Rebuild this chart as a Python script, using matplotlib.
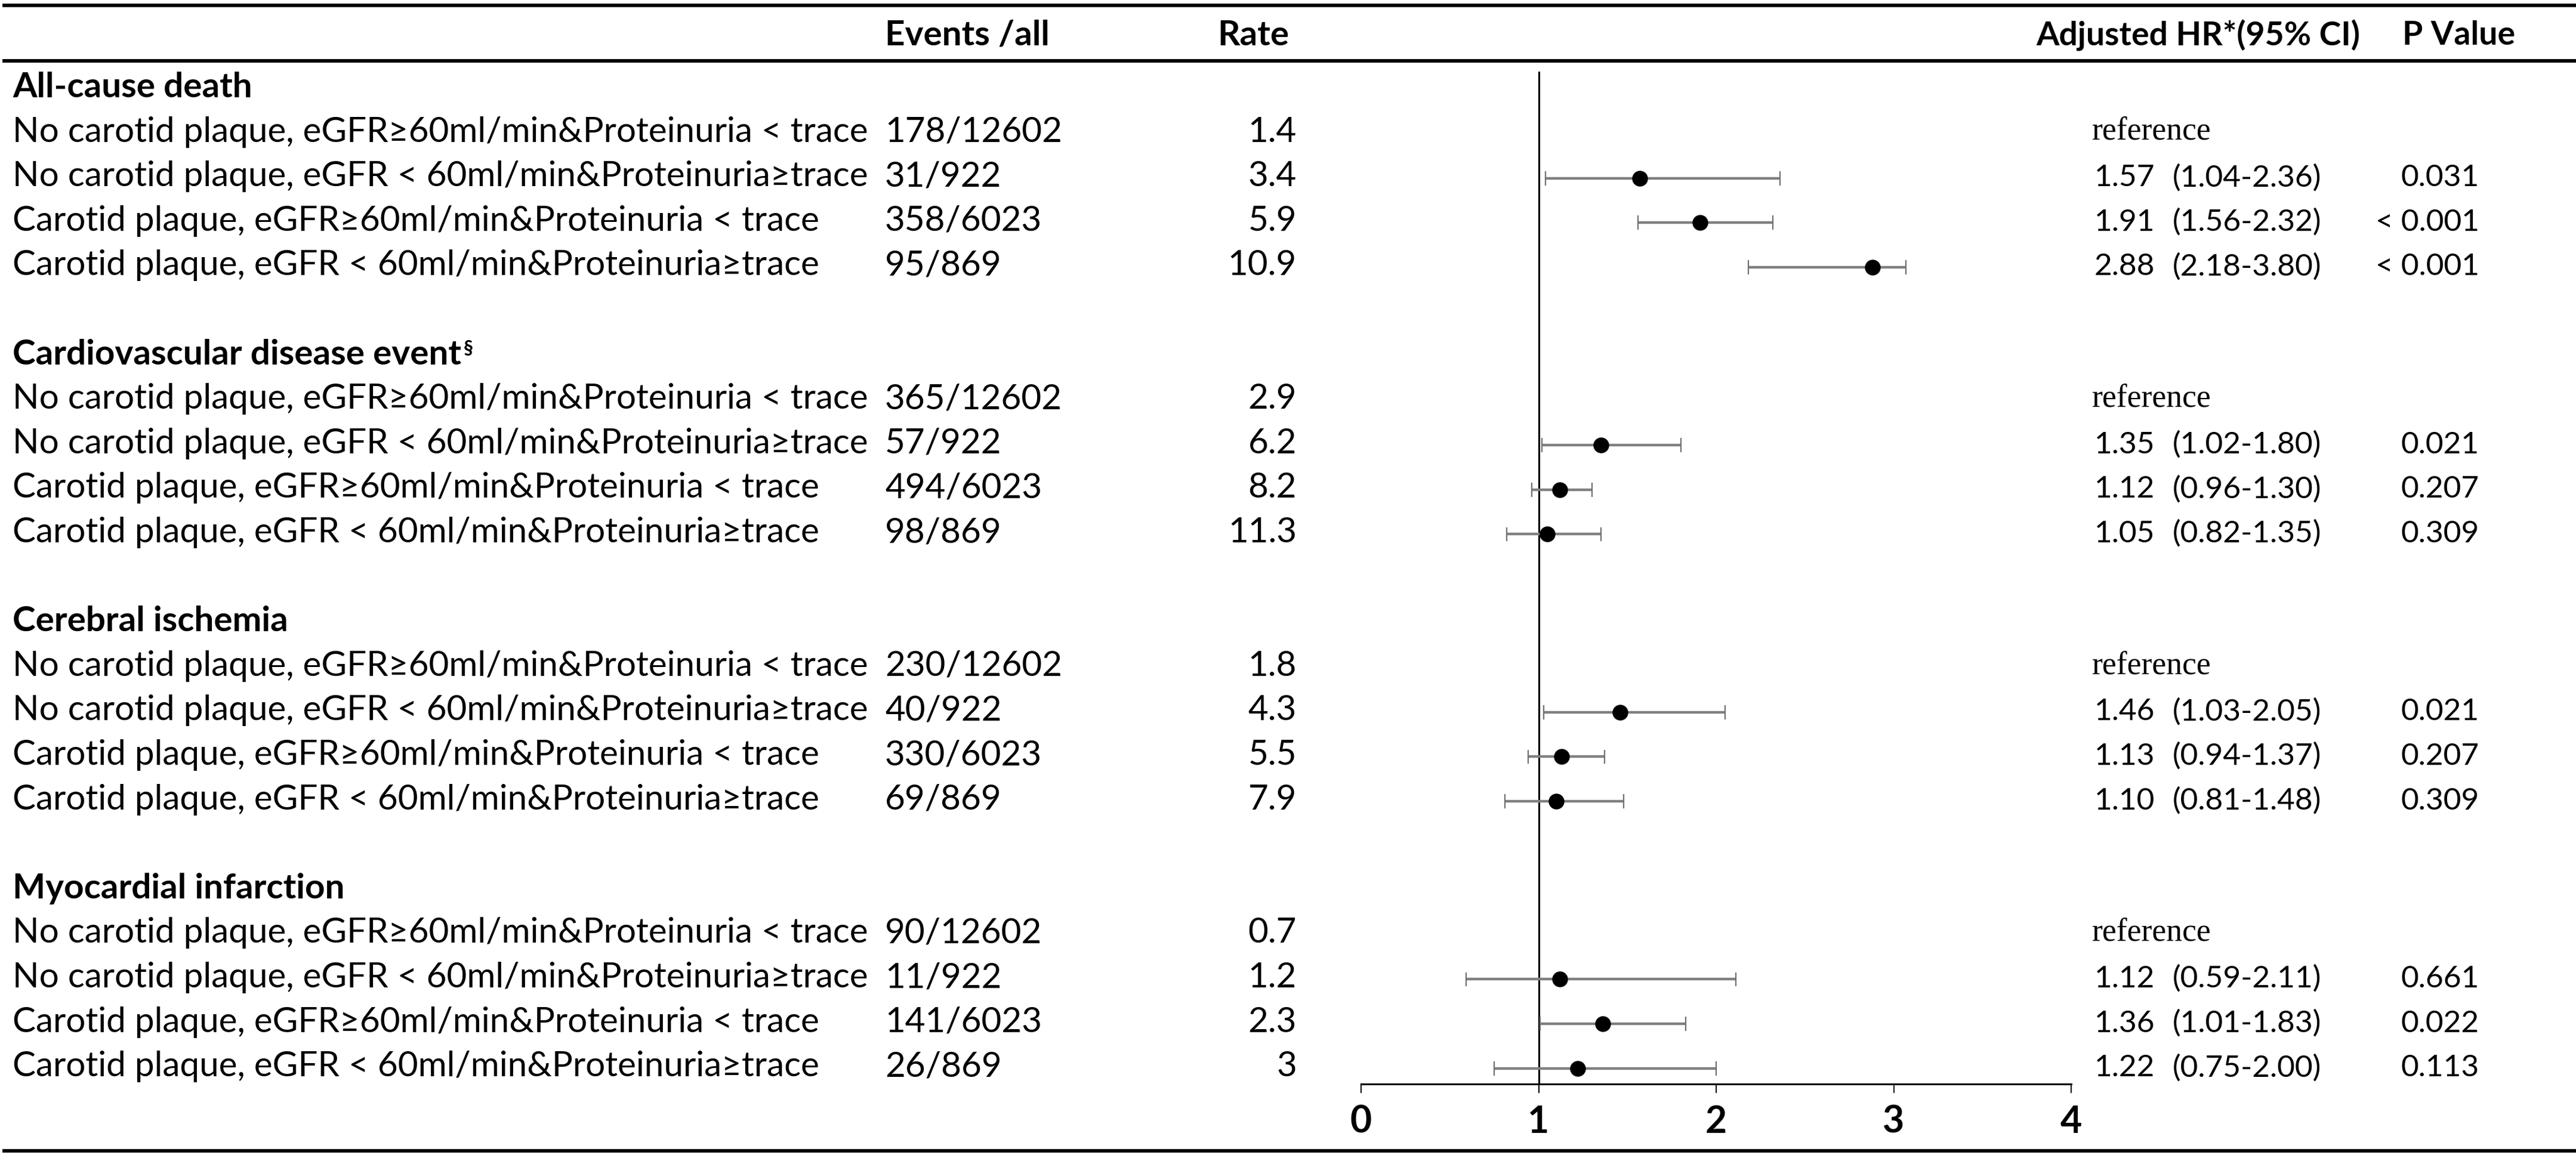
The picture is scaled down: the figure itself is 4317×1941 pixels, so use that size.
import numpy as np
import matplotlib
matplotlib.use('Agg')
import matplotlib.pyplot as plt
from matplotlib.lines import Line2D
from matplotlib.transforms import blended_transform_factory, offset_copy

# ---- data ----
groups = ['All-cause death', 'Cardiovascular disease event',
          'Cerebral ischemia', 'Myocardial infarction']
row_labels = [
    'No carotid plaque, eGFR\u226560ml/min&Proteinuria < trace',
    'No carotid plaque, eGFR < 60ml/min&Proteinuria\u2265trace',
    'Carotid plaque, eGFR\u226560ml/min&Proteinuria < trace',
    'Carotid plaque, eGFR < 60ml/min&Proteinuria\u2265trace',
]
events = ['178/12602', '31/922', '358/6023', '95/869',
          '365/12602', '57/922', '494/6023', '98/869',
          '230/12602', '40/922', '330/6023', '69/869',
          '90/12602', '11/922', '141/6023', '26/869']
rates = ['1.4', '3.4', '5.9', '10.9',
         '2.9', '6.2', '8.2', '11.3',
         '1.8', '4.3', '5.5', '7.9',
         '0.7', '1.2', '2.3', '3']
# hazard ratios as drawn (reference rows have no marker)
hr = [np.nan, 1.57, 1.91, 2.88,
      np.nan, 1.35, 1.12, 1.05,
      np.nan, 1.46, 1.13, 1.10,
      np.nan, 1.12, 1.36, 1.22]
ci_lo = [np.nan, 1.04, 1.56, 2.18,
         np.nan, 1.02, 0.96, 0.82,
         np.nan, 1.03, 0.94, 0.81,
         np.nan, 0.59, 1.01, 0.75]
# upper whisker of the last all-cause row stops near 3.07 in the figure
ci_hi = [np.nan, 2.36, 2.32, 3.07,
         np.nan, 1.80, 1.30, 1.35,
         np.nan, 2.05, 1.37, 1.48,
         np.nan, 2.11, 1.83, 2.00]
hr_txt = ['reference', '1.57', '1.91', '2.88',
          'reference', '1.35', '1.12', '1.05',
          'reference', '1.46', '1.13', '1.10',
          'reference', '1.12', '1.36', '1.22']
ci_txt = ['', '(1.04-2.36)', '(1.56-2.32)', '(2.18-3.80)',
          '', '(1.02-1.80)', '(0.96-1.30)', '(0.82-1.35)',
          '', '(1.03-2.05)', '(0.94-1.37)', '(0.81-1.48)',
          '', '(0.59-2.11)', '(1.01-1.83)', '(0.75-2.00)']
p_txt = ['', '0.031', '< 0.001', '< 0.001',
         '', '0.021', '0.207', '0.309',
         '', '0.021', '0.207', '0.309',
         '', '0.661', '0.022', '0.113']
x_ticks = [0, 1, 2, 3, 4]

# ---- layout (pixels of the 4317x1941 canvas) ----
W, H = 4317, 1941
SANS = ['Lato', 'DejaVu Sans']
NARROW = ['Liberation Sans Narrow', 'Lato', 'DejaVu Sans']
SERIF = ['Liberation Serif', 'DejaVu Serif']
FS = 42
FS_R = 37

fig = plt.figure(figsize=(W / 100, H / 100), dpi=100)
fig.patch.set_facecolor('white')

y0_px, step_px = 142, 74.6          # slot 0 centre and slot pitch
top_px, axis_px = 120, 1817
x0_px, x4_px = 2281, 3471


def slot_of(px):
    return (px - y0_px) / step_px


ax = fig.add_axes([x0_px / W, 1 - axis_px / H,
                   (x4_px - x0_px) / W, (axis_px - top_px) / H])
ax.set_xlim(0, 4)
ax.set_ylim(slot_of(axis_px), slot_of(top_px))
ax.patch.set_alpha(0)
for s in ('left', 'right', 'top'):
    ax.spines[s].set_visible(False)
ax.spines['bottom'].set_linewidth(2.2)
ax.set_yticks([])
ax.set_xticks(x_ticks)
ax.tick_params(axis='x', direction='out', length=11, width=1.5, pad=14)
for lab in ax.get_xticklabels():
    lab.set_fontfamily(SANS)
    lab.set_fontweight('bold')
    lab.set_fontsize(45)
ax.axvline(1, color='black', lw=2.2, zorder=1)

slots = []
for g in range(len(groups)):
    for i in range(len(row_labels)):
        slots.append(g * 6 + 1 + i)
slots = np.array(slots, dtype=float)

hr_a = np.array(hr)
lo_a = np.array(ci_lo)
hi_a = np.array(ci_hi)
mk_y = slots + 0.1
ax.hlines(mk_y, lo_a, hi_a, color='#808080', lw=3.2, zorder=2)
ax.vlines(lo_a, mk_y - 0.16, mk_y + 0.16, color='#707070', lw=1.6, zorder=2)
ax.vlines(hi_a, mk_y - 0.16, mk_y + 0.16, color='#707070', lw=1.6, zorder=2)
ax.plot(hr_a, mk_y, 'o', color='black', ms=18, zorder=3, clip_on=False)

# text placed with x in figure pixels, y in row slots
trans = blended_transform_factory(fig.transFigure, ax.transData)
base = offset_copy(trans, fig=fig, y=-21, units='dots')   # baseline below centre


def fx(px):
    return px / W


for g, name in enumerate(groups):
    t = ax.text(fx(21), g * 6, name, transform=base, ha='left', va='baseline',
                fontsize=FS, fontweight='bold', family=SANS)
    if g == 1:
        fig.canvas.draw()
        bb = t.get_window_extent()
        ax.text(fx(bb.x1 + 4), g * 6 - 0.22, '\u00a7', transform=base,
                ha='left', va='baseline', fontsize=FS * 0.55,
                fontweight='bold', family=SANS)

for k, s in enumerate(slots):
    ax.text(fx(21), s, row_labels[k % 4], transform=base, ha='left',
            va='baseline', fontsize=FS, family=SANS)
    ax.text(fx(1483), s, events[k], transform=base, ha='left',
            va='baseline', fontsize=FS, family=SANS)
    ax.text(fx(2173), s, rates[k], transform=base, ha='right',
            va='baseline', fontsize=FS, family=SANS)
    if ci_txt[k]:
        ax.text(fx(3510), s, hr_txt[k], transform=base, ha='left',
                va='baseline', fontsize=FS_R, family=NARROW)
        ax.text(fx(3641), s, ci_txt[k], transform=base, ha='left',
                va='baseline', fontsize=FS_R, family=NARROW)
        ax.text(fx(4155), s, p_txt[k], transform=base, ha='right',
                va='baseline', fontsize=FS_R, family=NARROW)
    else:
        ax.text(fx(3506), s - 0.05, hr_txt[k], transform=base, ha='left',
                va='baseline', fontsize=FS * 0.92, family=SERIF)

# column headers
hy = 1 - 59 / H
fig.text(fx(1483), hy, 'Events /all', ha='left', va='center',
         fontsize=FS, fontweight='bold', family=SANS)
fig.text(fx(2100), hy, 'Rate', ha='center', va='center',
         fontsize=FS, fontweight='bold', family=SANS)
fig.text(fx(3412), hy, 'Adjusted HR*(95% CI)', ha='left', va='center',
         fontsize=FS * 0.95, fontweight='bold', family=NARROW)
fig.text(fx(4026), hy, 'P Value', ha='left', va='center',
         fontsize=FS * 0.95, fontweight='bold', family=NARROW)

# table rules
for ypx in (9, 102, 1929):
    fig.add_artist(Line2D([7 / W, 1], [1 - ypx / H] * 2,
                          transform=fig.transFigure, color='black', lw=4.3))

fig.savefig('out.png', dpi=100, facecolor='white')
